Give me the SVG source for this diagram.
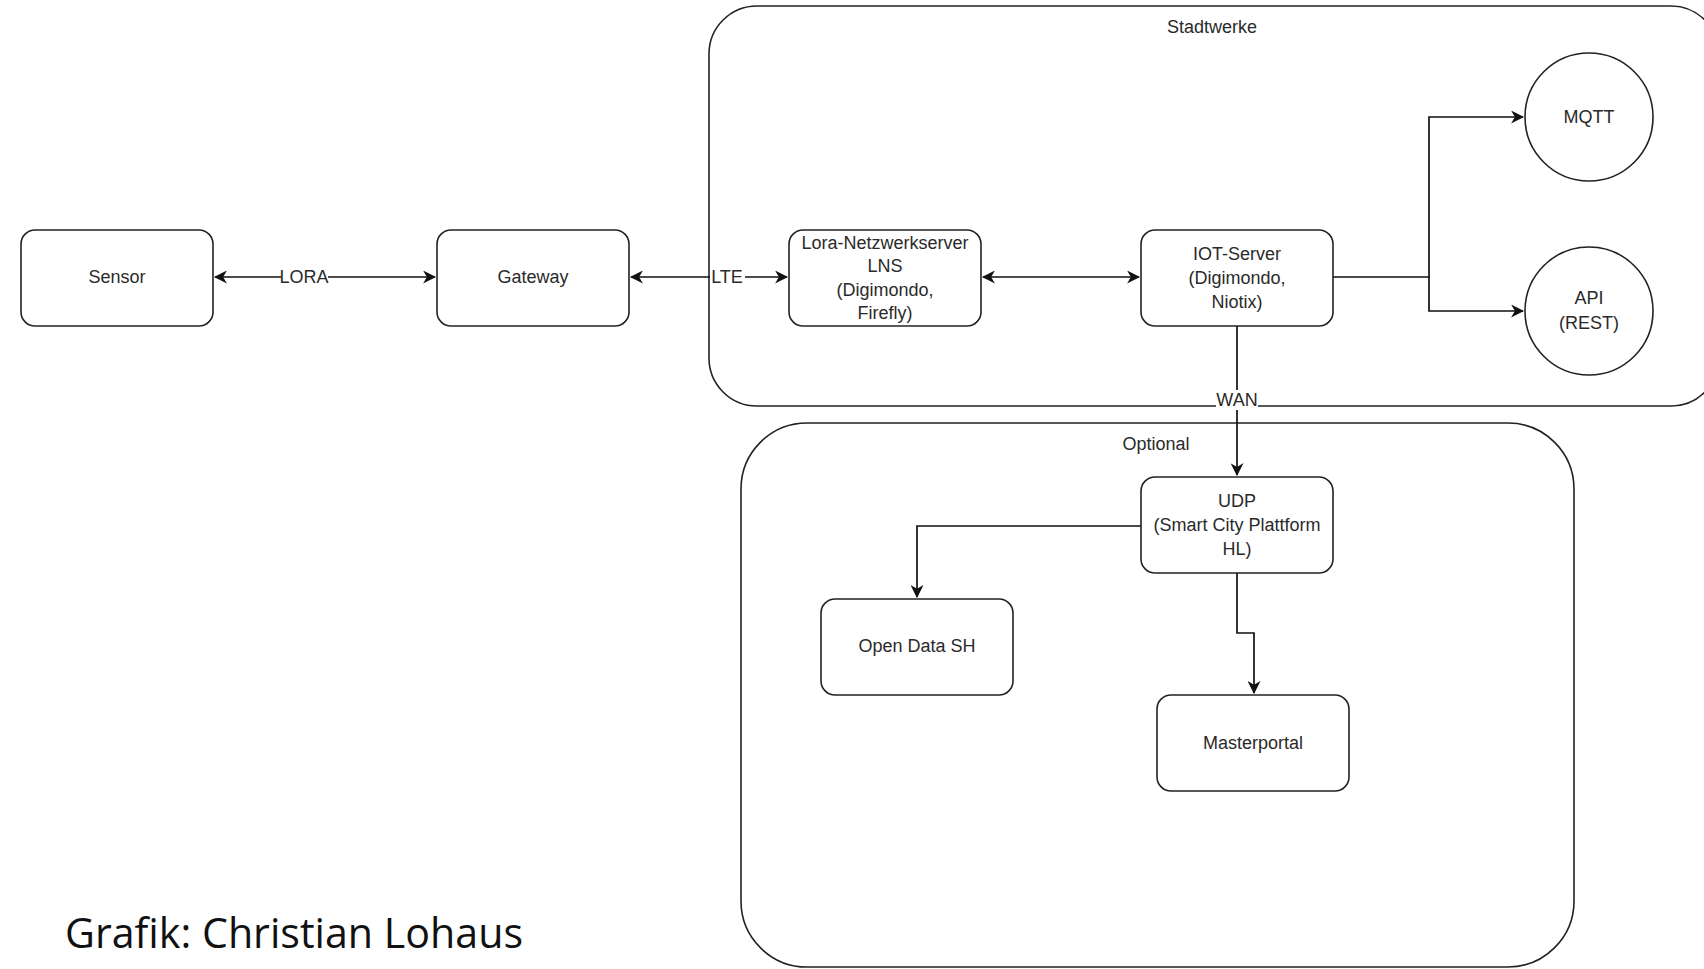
<svg xmlns="http://www.w3.org/2000/svg" width="1704" height="969" viewBox="0 0 1704 969">
<defs>
<marker id="arr" viewBox="0 0 12 12" refX="11" refY="6" markerWidth="13" markerHeight="13" markerUnits="userSpaceOnUse" orient="auto-start-reverse">
<path d="M0,0 L12,6 L0,12 L3.5,6 Z" fill="#111"/>
</marker>
<style>
.box{fill:#fff;stroke:#222;stroke-width:1.6}
.grp{fill:none;stroke:#222;stroke-width:1.6}
.t{font-family:"Liberation Sans",Arial,sans-serif;font-size:18px;fill:#2a2a2a;text-anchor:middle;dominant-baseline:central}
.c{fill:none;stroke:#111;stroke-width:1.7}
.lbl{fill:#fff}
</style>
</defs>
<rect width="1704" height="969" fill="#fff"/>
<g id="stadtwerke">
<rect class="grp" x="709" y="6" width="1010" height="400" rx="48" ry="48"/>
<text class="t" x="1212" y="27">Stadtwerke</text>
</g>
<g id="optional">
<rect class="grp" x="741" y="423" width="833" height="544" rx="66" ry="66"/>
<text class="t" x="1156" y="444">Optional</text>
</g>
<g id="connectors">
<line class="c" x1="215" y1="277" x2="435" y2="277" marker-start="url(#arr)" marker-end="url(#arr)"/>
<line class="c" x1="631" y1="277" x2="787" y2="277" marker-start="url(#arr)" marker-end="url(#arr)"/>
<line class="c" x1="983" y1="277" x2="1139" y2="277" marker-start="url(#arr)" marker-end="url(#arr)"/>
<polyline class="c" points="1333,277 1429,277 1429,117 1523,117" marker-end="url(#arr)"/>
<polyline class="c" points="1429,277 1429,311 1523,311" marker-end="url(#arr)"/>
<line class="c" x1="1237" y1="326" x2="1237" y2="475" marker-end="url(#arr)"/>
<polyline class="c" points="1141,526 917,526 917,597" marker-end="url(#arr)"/>
<polyline class="c" points="1237,573 1237,633 1254,633 1254,693" marker-end="url(#arr)"/>
<rect class="lbl" x="281" y="267" width="47" height="20"/>
<text class="t" x="304" y="277">LORA</text>
<rect class="lbl" x="710" y="267" width="35" height="20"/>
<text class="t" x="727" y="277">LTE</text>
<rect class="lbl" x="1216" y="390" width="42" height="20"/>
<text class="t" x="1237" y="400">WAN</text>
</g>
<g id="sensor">
<rect class="box" x="21" y="230" width="192" height="96" rx="14" ry="14"/>
<text class="t" x="117" y="277">Sensor</text>
</g>
<g id="gateway">
<rect class="box" x="437" y="230" width="192" height="96" rx="14" ry="14"/>
<text class="t" x="533" y="277">Gateway</text>
</g>
<g id="lns">
<rect class="box" x="789" y="230" width="192" height="96" rx="14" ry="14"/>
<text class="t" x="885" y="243">Lora-Netzwerkserver</text>
<text class="t" x="885" y="266">LNS</text>
<text class="t" x="885" y="290">(Digimondo,</text>
<text class="t" x="885" y="313">Firefly)</text>
</g>
<g id="iot">
<rect class="box" x="1141" y="230" width="192" height="96" rx="14" ry="14"/>
<text class="t" x="1237" y="254">IOT-Server</text>
<text class="t" x="1237" y="278">(Digimondo,</text>
<text class="t" x="1237" y="302">Niotix)</text>
</g>
<g id="mqtt">
<circle class="box" cx="1589" cy="117" r="64"/>
<text class="t" x="1589" y="117">MQTT</text>
</g>
<g id="api">
<circle class="box" cx="1589" cy="311" r="64"/>
<text class="t" x="1589" y="298">API</text>
<text class="t" x="1589" y="323">(REST)</text>
</g>
<g id="udp">
<rect class="box" x="1141" y="477" width="192" height="96" rx="14" ry="14"/>
<text class="t" x="1237" y="501">UDP</text>
<text class="t" x="1237" y="525">(Smart City Plattform</text>
<text class="t" x="1237" y="549">HL)</text>
</g>
<g id="opendata">
<rect class="box" x="821" y="599" width="192" height="96" rx="14" ry="14"/>
<text class="t" x="917" y="646">Open Data SH</text>
</g>
<g id="masterportal">
<rect class="box" x="1157" y="695" width="192" height="96" rx="14" ry="14"/>
<text class="t" x="1253" y="743">Masterportal</text>
</g>
<text x="65" y="948" font-family="'Open Sans','Noto Sans',sans-serif" font-size="42" fill="#111" textLength="458" lengthAdjust="spacingAndGlyphs">Grafik: Christian Lohaus</text>
</svg>
